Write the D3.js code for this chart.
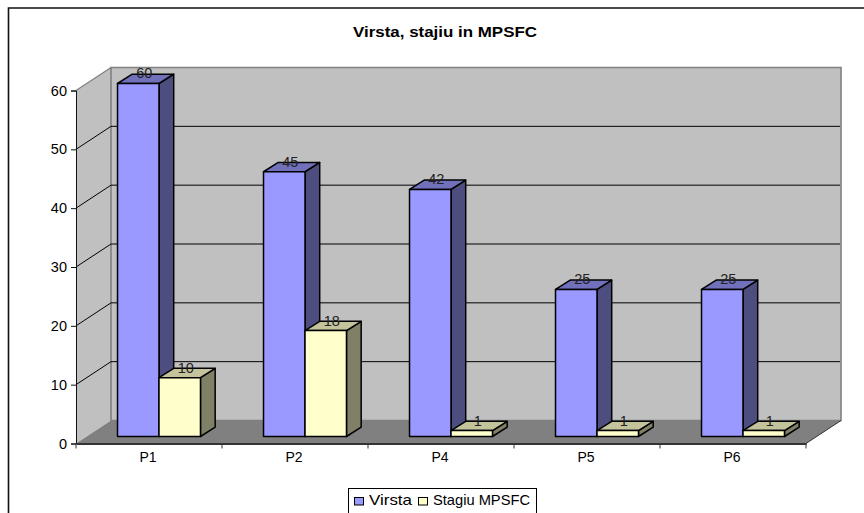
<!DOCTYPE html>
<html>
<head>
<meta charset="utf-8">
<script src="https://cdn.jsdelivr.net/npm/d3@7"></script>
<style>
  html, body { margin: 0; padding: 0; background: #fff; overflow: hidden; }
  svg { display: block; }
  text { font-family: "Liberation Sans", Arial, sans-serif; fill: #000; }
</style>
</head>
<body>
<div id="chart"></div>
<script>
const categories = ["P1", "P2", "P4", "P5", "P6"];
const virsta = [60, 45, 42, 25, 25];
const stagiu = [10, 18, 1, 1, 1];
const seriesNames = ["Virsta", "Stagiu MPSFC"];
const yTicks = [0, 10, 20, 30, 40, 50, 60];

const colors = {
  "Virsta": { front: "#9999ff", top: "#7070bb", side: "#4d4d80" },
  "Stagiu MPSFC": { front: "#ffffcc", top: "#c4c49c", side: "#808066" }
};

const width = 864, height = 513;

// wall depth of the 3d box, and how far the bars sit inside it
const depthX = 35, depthY = 23;
const insetX = 10, insetY = 7;
const barDepthX = 14.7, barDepthY = 9.3;

const svg = d3.select("#chart").append("svg")
  .attr("width", width)
  .attr("height", height);

const x = d3.scaleBand().domain(categories).range([76, 806]);
const y = d3.scaleLinear().domain([0, 60]).range([443.5, 90.5]);
const xInner = d3.scaleBand().domain(seriesNames)
  .range([0, x.bandwidth()])
  .paddingInner(0)
  .paddingOuter(0.76);

const poly = pts => pts.map(p => p.join(",")).join(" ");

// chart frame, the bottom and right sides are cut off by the crop
svg.append("path")
  .attr("d", "M8.5,513V8H864")
  .attr("fill", "none")
  .attr("stroke", "#111")
  .attr("stroke-width", 1.6);

svg.append("text")
  .attr("x", 353)
  .attr("y", 36.5)
  .attr("font-size", 15.5)
  .attr("font-weight", "bold")
  .attr("textLength", 184)
  .attr("lengthAdjust", "spacingAndGlyphs")
  .text("Virsta, stajiu in MPSFC");

const [xLeft, xRight] = x.range();
const yTop = y(60), yBase = y(0);

// side wall, back wall, floor
const box = svg.append("g");
box.append("polygon")
  .attr("points", poly([[xLeft, yBase], [xLeft + depthX, yBase - depthY], [xLeft + depthX, yTop - depthY], [xLeft, yTop]]))
  .attr("fill", "#c0c0c0");
box.append("polygon")
  .attr("points", poly([[xLeft + depthX, yBase - depthY], [xRight + depthX, yBase - depthY], [xRight + depthX, yTop - depthY], [xLeft + depthX, yTop - depthY]]))
  .attr("fill", "#c0c0c0")
  .attr("stroke", "#808080")
  .attr("stroke-width", 1.6);
box.append("polygon")
  .attr("points", poly([[xLeft, yBase], [xRight, yBase], [xRight + depthX, yBase - depthY], [xLeft + depthX, yBase - depthY]]))
  .attr("fill", "#808080");
box.append("line")
  .attr("x1", xLeft).attr("y1", yTop)
  .attr("x2", xLeft + depthX).attr("y2", yTop - depthY)
  .attr("stroke", "#808080")
  .attr("stroke-width", 1.2);

// gridlines round the walls
const gridValues = yTicks.filter(d => d > 0 && d < 60);
box.selectAll(".grid")
  .data(gridValues)
  .join("path")
  .attr("class", "grid")
  .attr("fill", "none")
  .attr("stroke", "#000")
  .attr("stroke-width", 1)
  .attr("d", d => `M${xLeft},${y(d)}L${xLeft + depthX},${y(d) - depthY}H${xRight + depthX - 1}`);

// y axis
const yAxis = svg.append("g")
  .attr("transform", `translate(${xLeft},0)`)
  .call(d3.axisLeft(y).tickValues(yTicks).tickSize(5).tickPadding(4));
yAxis.selectAll("path, line").attr("stroke", "#111").attr("stroke-width", 1);
yAxis.selectAll("text").attr("font-size", 14.5).attr("font-family", null);

// x axis, ticks sit between the categories
const xAxis = svg.append("g")
  .attr("transform", `translate(0,${yBase})`)
  .call(d3.axisBottom(x).tickSize(0).tickPadding(9));
xAxis.select(".domain").attr("stroke", "#333").attr("stroke-width", 2);
xAxis.selectAll("text").attr("font-size", 14).attr("font-family", null).attr("dx", -1);
xAxis.selectAll(".between")
  .data(categories.map(c => x(c)).concat(xRight))
  .join("line")
  .attr("class", "between")
  .attr("x1", d => d).attr("x2", d => d)
  .attr("y1", 0).attr("y2", 5)
  .attr("stroke", "#333")
  .attr("stroke-width", 1);

svg.append("line")
  .attr("x1", xRight).attr("y1", yBase)
  .attr("x2", xRight + depthX).attr("y2", yBase - depthY)
  .attr("stroke", "#333")
  .attr("stroke-width", 1);

// bars
const bars = [];
categories.forEach((c, i) => {
  bars.push({ cat: c, name: seriesNames[0], value: virsta[i] });
  bars.push({ cat: c, name: seriesNames[1], value: stagiu[i] });
});

const barGroups = svg.selectAll(".bar")
  .data(bars)
  .join("g")
  .attr("class", "bar")
  .attr("stroke", "#000")
  .attr("stroke-width", 1.5)
  .attr("stroke-linejoin", "round");

const barLeft = d => x(d.cat) + insetX + xInner(d.name);
const barRight = d => barLeft(d) + xInner.bandwidth();
const barTop = d => y(d.value) - insetY;
const barBase = yBase - insetY;

barGroups.append("polygon")
  .attr("fill", d => colors[d.name].side)
  .attr("points", d => poly([
    [barRight(d), barTop(d)],
    [barRight(d) + barDepthX, barTop(d) - barDepthY],
    [barRight(d) + barDepthX, barBase - barDepthY],
    [barRight(d), barBase]
  ]));
barGroups.append("polygon")
  .attr("fill", d => colors[d.name].top)
  .attr("points", d => poly([
    [barLeft(d), barTop(d)],
    [barRight(d), barTop(d)],
    [barRight(d) + barDepthX, barTop(d) - barDepthY],
    [barLeft(d) + barDepthX, barTop(d) - barDepthY]
  ]));
barGroups.append("rect")
  .attr("fill", d => colors[d.name].front)
  .attr("x", barLeft)
  .attr("y", barTop)
  .attr("width", xInner.bandwidth())
  .attr("height", d => barBase - barTop(d));

// value labels
svg.selectAll(".value")
  .data(bars)
  .join("text")
  .attr("class", "value")
  .attr("x", d => barLeft(d) + xInner.bandwidth() / 2 + 6)
  .attr("y", d => barTop(d) - barDepthY - 1)
  .attr("dy", "0.36em")
  .attr("text-anchor", "middle")
  .attr("font-size", 14.5)
  .style("fill", "#222")
  .text(d => d.value);

// legend, its lower edge falls outside the picture
const legend = svg.append("g");
legend.append("rect")
  .attr("x", 348.5).attr("y", 488.5)
  .attr("width", 188).attr("height", 30)
  .attr("fill", "#fff")
  .attr("stroke", "#000")
  .attr("stroke-width", 1);

const legendX = d3.scaleOrdinal().domain(seriesNames).range([354.5, 418.5]);
const legendTextWidth = d3.scaleOrdinal().domain(seriesNames).range([43, 97]);
const items = legend.selectAll(".item")
  .data(seriesNames)
  .join("g")
  .attr("class", "item")
  .attr("transform", d => `translate(${legendX(d)},0)`);
items.append("rect")
  .attr("y", 497.5)
  .attr("width", 9).attr("height", 7.5)
  .attr("fill", d => colors[d].front)
  .attr("stroke", "#000")
  .attr("stroke-width", 1);
items.append("text")
  .attr("x", 14.5)
  .attr("y", 504.5)
  .attr("font-size", 14.5)
  .attr("textLength", d => legendTextWidth(d))
  .attr("lengthAdjust", "spacingAndGlyphs")
  .text(d => d);
</script>
</body>
</html>
